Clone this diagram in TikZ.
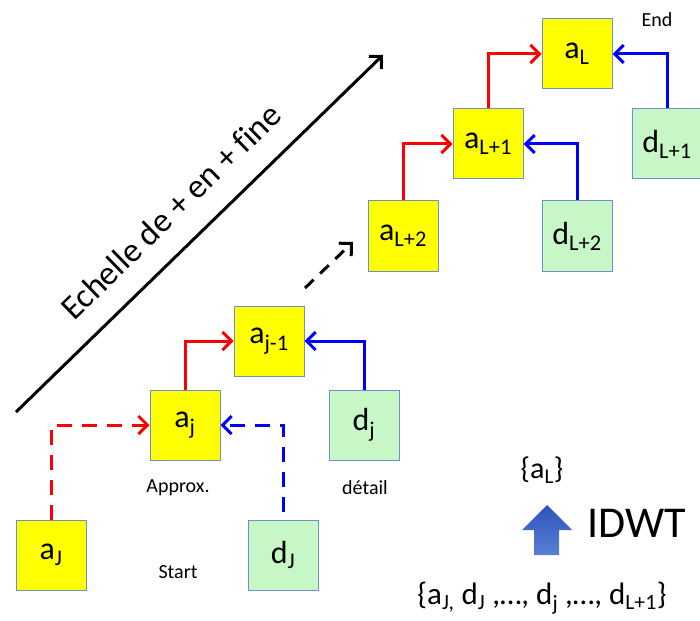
\documentclass[tikz,border=0pt]{standalone}
\usepackage{fontspec}
\setmainfont{Carlito}
\usetikzlibrary{arrows.meta}

\definecolor{boxyellow}{RGB}{255,255,0}
\definecolor{boxgreen}{RGB}{199,247,199}
\definecolor{boxline}{RGB}{110,145,205}
\definecolor{idwttop}{RGB}{45,82,188}
\definecolor{idwtbot}{RGB}{88,128,212}

\tikzset{
  coef/.style={draw=boxline, line width=1pt, minimum size=70pt, inner sep=0pt,
    font=\fontsize{32}{32}\selectfont},
  approx/.style={coef, fill=boxyellow},
  detail/.style={coef, fill=boxgreen},
  lbl/.style={font=\fontsize{20}{20}\selectfont},
  tip/.style={-{Straight Barb[length=9pt,width=18pt]}},
  upstep/.style={tip, red, line width=3pt},
  inject/.style={tip, blue, line width=3pt},
  pending/.style={dash pattern=on 15pt off 10pt}
}

\begin{document}
\begin{tikzpicture}[x=1pt,y=-1pt]
            \useasboundingbox (0,0) rectangle (700,620);
            % coefficient boxes
            \node[approx] (aJ)  at (51,555)  {a\textsubscript{J}};
            \node[detail] (dJ)  at (283,555) {d\textsubscript{J}};
            \node[approx] (aj)  at (185,425) {a\textsubscript{j}};
            \node[detail] (dj)  at (364,425) {d\textsubscript{j}};
            \node[approx] (ajm) at (269,341) {a\textsubscript{j-1}};
            \node[approx] (aL2) at (403,236) {a\textsubscript{L+2}};
            \node[detail] (dL2) at (577,236) {d\textsubscript{L+2}};
            \node[approx] (aL1) at (488,144) {a\textsubscript{L+1}};
            \node[detail] (dL1) at (667,144) {d\textsubscript{L+1}};
            \node[approx] (aL)  at (577,54)  {a\textsubscript{L}};
            % reconstruction steps
            \draw[upstep,pending] (aJ.north) |- (aj.west);
            \draw[inject,pending,shorten <=8pt] (dJ.north) |- (aj.east);
            \draw[upstep] (aj.north) |- (ajm.west);
            \draw[inject] (dj.north) |- (ajm.east);
            \draw[upstep] (aL2.north) |- (aL1.west);
            \draw[inject] (dL2.north) |- (aL1.east);
            \draw[upstep] (aL1.north) |- (aL.west);
            \draw[inject] (dL1.north) |- (aL.east);
            % labels
            \node[lbl] (approxlbl) at (178,488) {Approx.};
            \node[lbl] (detaillbl) at (365,488) {détail};
            \node[lbl] (startlbl)  at (178,572) {Start};
            \node[lbl] (endlbl)    at (657,20)  {End};
            % scale axis
            \coordinate (low) at (16,412);
            \coordinate (high) at (383,55);
            \draw[tip,line width=3pt] (low) -- (high)
                node[pos=0.49,sloped,above=19pt,font=\fontsize{34}{34}\selectfont]
                (scalelbl) {Echelle de + en + f\kern0pt ine};
            \coordinate (gapa) at (305,288);
            \coordinate (gapb) at (353,242);
            \draw[tip,line width=3pt,dash pattern=on 12pt off 9pt] (gapa) -- (gapb);
            % IDWT
            \node[font=\fontsize{30}{30}\selectfont] (res) at (542,470)
                {\{a\textsubscript{L}\}};
            \node[font=\fontsize{44}{44}\selectfont] (idwt) at (637,523) {IDWT};
            \node[font=\fontsize{31}{31}\selectfont] (coeffs) at (542,598)
                {\{a\textsubscript{J,} d\textsubscript{J} ,…, d\textsubscript{j} ,…, d\textsubscript{L+1}\}};
            \shade[top color=idwttop,bottom color=idwtbot]
                (534,555) -- (534,530) -- (522,530) -- (547,505)
                -- (572,530) -- (559,530) -- (559,555) -- cycle;
\end{tikzpicture}
\end{document}
